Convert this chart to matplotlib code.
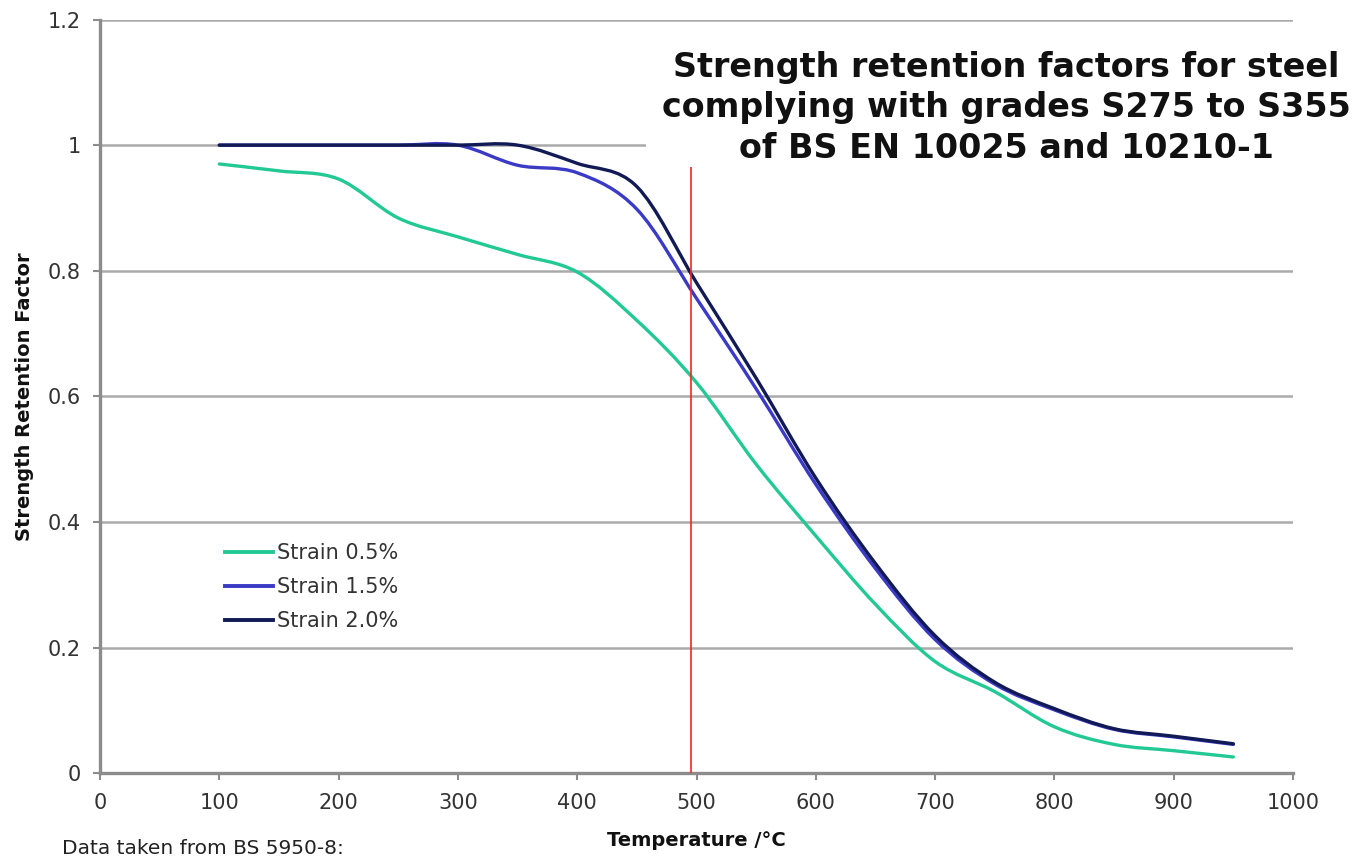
import matplotlib
matplotlib.use("Agg")
import matplotlib.pyplot as plt
from matplotlib.path import Path
from matplotlib.patches import PathPatch, Rectangle
from matplotlib.lines import Line2D
import numpy as np

# ---------------- data ----------------
temperature = [100, 150, 200, 250, 300, 350, 400, 450, 500, 550,
               600, 650, 700, 750, 800, 850, 900, 950]
strain_05 = [0.970, 0.959, 0.946, 0.884, 0.854, 0.826, 0.798, 0.721, 0.622, 0.492,
             0.378, 0.269, 0.178, 0.130, 0.074, 0.046, 0.036, 0.026]
strain_15 = [1.000, 1.000, 1.000, 1.000, 1.000, 0.968, 0.956, 0.898, 0.756, 0.612,
             0.460, 0.326, 0.213, 0.142, 0.101, 0.070, 0.058, 0.046]
strain_20 = [1.000, 1.000, 1.000, 1.000, 1.000, 1.000, 0.971, 0.934, 0.781, 0.629,
             0.470, 0.334, 0.219, 0.145, 0.103, 0.071, 0.059, 0.047]
series_labels = ["Strain 0.5%", "Strain 1.5%", "Strain 2.0%"]
marker_temp = 495
marker_top = 0.965
x_ticks = [0, 100, 200, 300, 400, 500, 600, 700, 800, 900, 1000]
y_ticks = [0, 0.2, 0.4, 0.6, 0.8, 1.0, 1.2]
title_text = ("Strength retention factors for steel\n"
              "complying with grades S275 to S355\n"
              "of BS EN 10025 and 10210-1")
source_text = "Data taken from BS 5950-8:"

colors = ["#22c994", "#3a3ac6", "#111a55"]

# ---------------- figure ----------------
W, H = 1360, 860
fig = plt.figure(figsize=(W / 100, H / 100), dpi=100)
ax = fig.add_axes([100 / W, (H - 773.3) / H, 1193 / W, 753.8 / H])
plt.rcParams['font.family'] = ['DejaVu Sans']


def smooth_path(xs, ys):
    pts = np.column_stack([xs, ys]).astype(float)
    n = len(pts)
    verts = [pts[0]]
    codes = [Path.MOVETO]
    for i in range(n - 1):
        p0 = pts[i - 1] if i > 0 else pts[i]
        p1 = pts[i]
        p2 = pts[i + 1]
        p3 = pts[i + 2] if i + 2 < n else pts[i + 1]
        c1 = p1 + (p2 - p0) / 6.0
        c2 = p2 - (p3 - p1) / 6.0
        verts += [c1, c2, p2]
        codes += [Path.CURVE4] * 3
    return Path(verts, codes)


for ys, c in zip([strain_05, strain_15, strain_20], colors):
    patch = PathPatch(smooth_path(temperature, ys), fill=False, edgecolor=c,
                      lw=2.4, capstyle='round', joinstyle='round', zorder=3)
    ax.add_patch(patch)

ax.set_xlim(0, 1000)
ax.set_ylim(0, 1.2)
ax.axvline(marker_temp, ymin=0, ymax=marker_top / 1.2, color="#ff2020", lw=1.2, zorder=4)

ax.set_xticks(x_ticks)
ax.set_yticks(y_ticks)
ax.set_yticklabels([f"{v:g}" for v in y_ticks])
ax.set_xticklabels([str(v) for v in x_ticks])

ax.grid(axis='y', color="#aaaaaa", lw=1.8, zorder=1)
ax.set_axisbelow(True)
for s in ["top", "right"]:
    ax.spines[s].set_visible(False)
for s in ["left", "bottom"]:
    ax.spines[s].set_color("#8c8c8c")
    ax.spines[s].set_linewidth(2.4)
ax.tick_params(axis='both', direction='out', length=5, width=1.5,
               color="#8c8c8c", labelsize=15, labelcolor="#333333", pad=9)

ax.set_xlabel("Temperature /°C", fontsize=14, fontweight='bold', color="#111111")
ax.xaxis.set_label_coords(0.5, (773.3 - 840) / 753.8)
ax.xaxis.label.set_va('center')
ax.set_ylabel("Strength Retention Factor", fontsize=14, fontweight='bold', color="#111111")
ax.yaxis.set_label_coords((25 - 100) / 1193, 0.5)
ax.yaxis.label.set_va('center')

handles = [Line2D([], [], color=c, lw=2.8) for c in colors]
ax.legend(handles, series_labels, loc='upper left',
          bbox_to_anchor=((225 - 100) / 1193, (773.3 - 543) / 753.8),
          frameon=False, fontsize=15, handlelength=2.3, handletextpad=0.2,
          labelspacing=0.68, borderpad=0, borderaxespad=0, labelcolor="#333333")

# white title box covering part of the plot
fig.patches.append(Rectangle((646 / W, (H - 167) / H), 1 - 646 / W, (167 - 28) / H,
                             transform=fig.transFigure, facecolor='white',
                             edgecolor='none', zorder=5))
fig.text(1006 / W, (H - 108) / H, title_text, ha='center', va='center',
         fontsize=24, fontweight='bold', color="#111111", linespacing=1.3, zorder=6)

fig.text(62 / W, (H - 848) / H, source_text, ha='left', va='center',
         fontsize=14.5, color="#222222")

fig.savefig("out.png", dpi=100)
